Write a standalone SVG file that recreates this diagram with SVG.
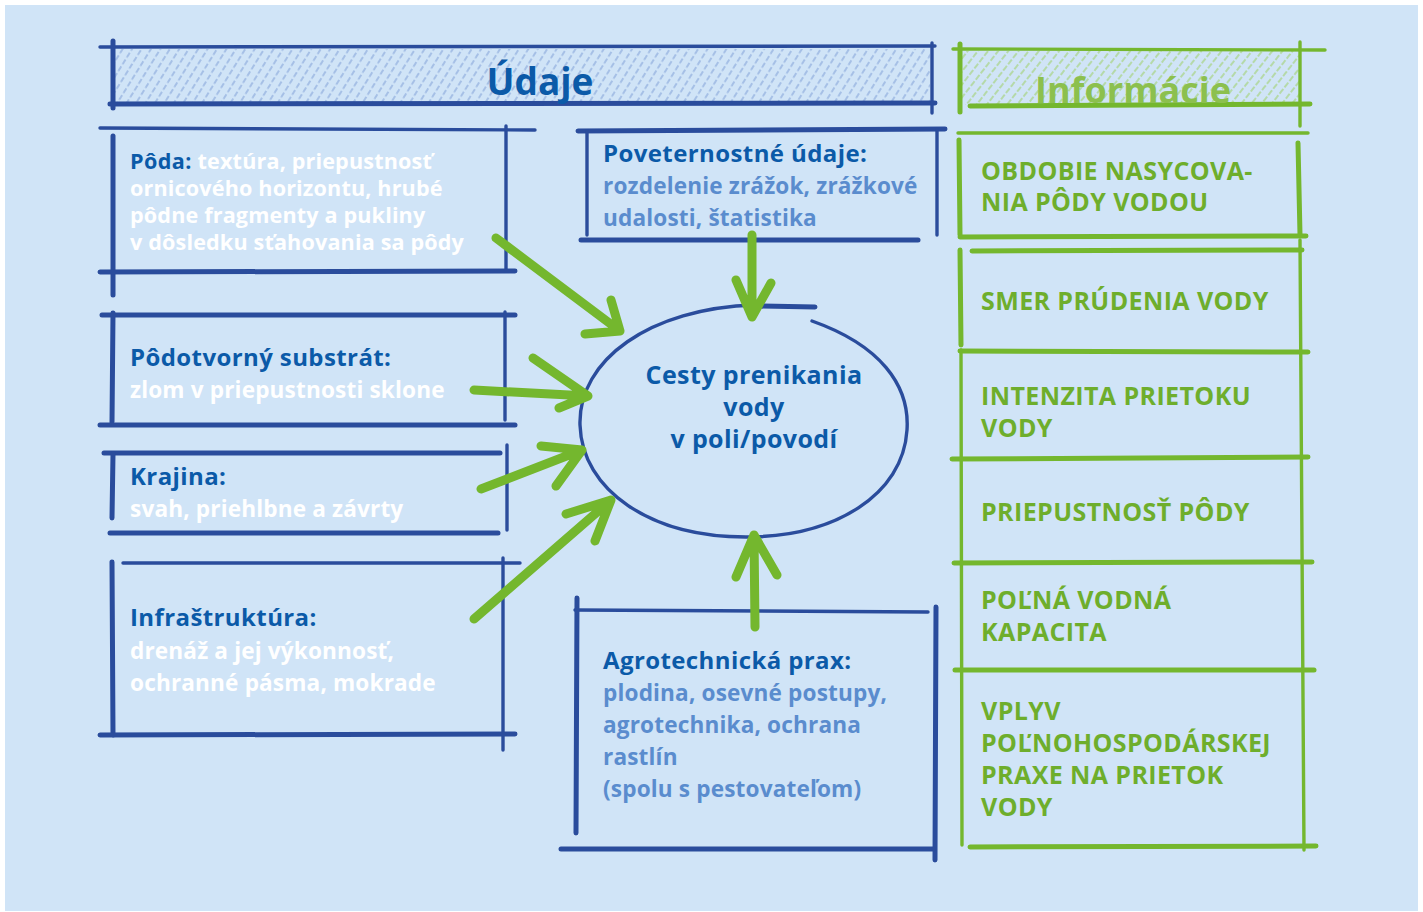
<svg xmlns="http://www.w3.org/2000/svg" width="1423" height="912" viewBox="0 0 1423 912">
  <defs>
    <pattern id="hatchBlue" width="8" height="8" patternUnits="userSpaceOnUse" patternTransform="rotate(32)">
      <line x1="2" y1="0" x2="2" y2="5.5" stroke="#7f9ed6" stroke-width="1.4" stroke-opacity="0.75"/>
    </pattern>
    <pattern id="hatchGreen" width="8" height="8" patternUnits="userSpaceOnUse" patternTransform="rotate(38)">
      <line x1="2" y1="0" x2="2" y2="6" stroke="#9fd06a" stroke-width="1.4" stroke-opacity="0.8"/>
    </pattern>
  </defs>
  <style>
    .bl { stroke: #2a4c9c; stroke-width: 3.4; stroke-linecap: round; fill: none; }
    .blt { stroke: #2a4c9c; stroke-width: 5; stroke-linecap: round; fill: none; }
    .gl { stroke: #74b72e; stroke-width: 3.4; stroke-linecap: round; fill: none; }
    .glt { stroke: #74b72e; stroke-width: 5; stroke-linecap: round; fill: none; }
    .arr { stroke: #74b72e; stroke-width: 9; stroke-linecap: round; stroke-linejoin: round; fill: none; }
    text { font-family: "Open Sans", "Noto Sans", sans-serif; font-weight: 700; }
    .hd { fill: #0b5aa8; font-size: 24px; letter-spacing: 0.4px; }
    .wt { fill: #ffffff; font-size: 22.6px; letter-spacing: 0.15px; }
    .lb { fill: #5a8cce; font-size: 22.6px; letter-spacing: 0.15px; }
    .gt { fill: #6eae2c; font-size: 25px; letter-spacing: 0.4px; }
    .sm { font-size: 21.6px; }
  </style>

  <!-- page background -->
  <rect x="5" y="5" width="1413" height="906" fill="#d0e4f7"/>

  <!-- header: Údaje -->
  <g id="header-udaje">
    <rect x="112" y="49" width="818" height="55" fill="url(#hatchBlue)"/>
    <path class="bl" d="M100 47 L935 46"/>
    <path class="blt" d="M110 104 L935 103"/>
    <path class="blt" d="M113 41 L113 108"/>
    <path class="bl" d="M932 43 L932 113"/>
    <text x="540" y="95" text-anchor="middle" style="font-size:37px;fill:#0b5aa8">Údaje</text>
  </g>

  <!-- header: Informácie -->
  <g id="header-informacie">
    <rect x="962" y="51" width="338" height="54" fill="url(#hatchGreen)"/>
    <path class="gl" d="M953 49 L1325 50"/>
    <path class="glt" d="M970 106 L1310 104"/>
    <path class="glt" d="M960 44 L960 112"/>
    <path class="gl" d="M1300 42 L1300 126"/>
    <text x="1133" y="103" text-anchor="middle" style="font-size:36px;fill:#8cc04e">Informácie</text>
  </g>

  <!-- Pôda -->
  <g id="node-poda">
    <path class="bl" d="M100 128 L535 130"/>
    <path class="blt" d="M113 136 L113 295"/>
    <path class="bl" d="M506 126 L506 270"/>
    <path class="blt" d="M100 272 L515 271"/>
    <text x="130" y="169"><tspan class="hd sm">Pôda:</tspan><tspan class="wt sm"> textúra, priepustnosť</tspan></text>
    <text class="wt sm" x="130" y="196">ornicového horizontu, hrubé</text>
    <text class="wt sm" x="130" y="223">pôdne fragmenty a pukliny</text>
    <text class="wt sm" x="130" y="250">v dôsledku sťahovania sa pôdy</text>
  </g>

  <!-- Poveternostné údaje -->
  <g id="node-poveternostne">
    <path class="blt" d="M578 131 L945 129"/>
    <path class="bl" d="M587 131 L587 235"/>
    <path class="bl" d="M937 130 L937 235"/>
    <path class="blt" d="M581 240 L918 240"/>
    <text class="hd" x="603" y="162">Poveternostné údaje:</text>
    <text class="lb" x="603" y="194">rozdelenie zrážok, zrážkové</text>
    <text class="lb" x="603" y="226">udalosti, štatistika</text>
  </g>

  <!-- Pôdotvorný substrát -->
  <g id="node-podotvorny">
    <path class="blt" d="M102 315 L515 315"/>
    <path class="blt" d="M113 313 L112 422"/>
    <path class="bl" d="M505 312 L505 420"/>
    <path class="blt" d="M100 425 L515 425"/>
    <text class="hd" x="130" y="366">Pôdotvorný substrát:</text>
    <text class="wt" x="130" y="398">zlom v priepustnosti sklone</text>
  </g>

  <!-- Krajina -->
  <g id="node-krajina">
    <path class="blt" d="M104 453 L500 453"/>
    <path class="blt" d="M113 454 L112 518"/>
    <path class="bl" d="M507 445 L507 530"/>
    <path class="blt" d="M110 533 L498 533"/>
    <text class="hd" x="130" y="485">Krajina:</text>
    <text class="wt" x="130" y="517">svah, priehlbne a závrty</text>
  </g>

  <!-- Infraštruktúra -->
  <g id="node-infrastruktura">
    <path class="bl" d="M123 563 L520 563"/>
    <path class="blt" d="M112 562 L113 735"/>
    <path class="bl" d="M503 558 L503 750"/>
    <path class="blt" d="M100 735 L515 734"/>
    <text class="hd" x="130" y="626">Infraštruktúra:</text>
    <text class="wt" x="130" y="659">drenáž a jej výkonnosť,</text>
    <text class="wt" x="130" y="691">ochranné pásma, mokrade</text>
  </g>

  <!-- Agrotechnická prax -->
  <g id="node-agrotechnicka">
    <path class="bl" d="M575 610 L928 612"/>
    <path class="blt" d="M577 598 L576 833"/>
    <path class="blt" d="M936 607 L935 860"/>
    <path class="blt" d="M561 849 L933 849"/>
    <text class="hd" x="603" y="669">Agrotechnická prax:</text>
    <text class="lb" x="603" y="701">plodina, osevné postupy,</text>
    <text class="lb" x="603" y="733">agrotechnika, ochrana</text>
    <text class="lb" x="603" y="765">rastlín</text>
    <text class="lb" x="603" y="797">(spolu s pestovateľom)</text>
  </g>

  <!-- central ellipse -->
  <g id="node-cesty">
    <path class="bl" d="M812 321 C880 345 910 385 907 430 C903 495 835 537 746 537 C650 537 582 490 580 425 C578 360 650 308 755 305"/>
    <path class="blt" d="M755 306 L815 307"/>
    <text class="hd" x="754" y="384" text-anchor="middle" style="font-size:25px">Cesty prenikania</text>
    <text class="hd" x="754" y="416" text-anchor="middle" style="font-size:25px">vody</text>
    <text class="hd" x="754" y="448" text-anchor="middle" style="font-size:25px">v poli/povodí</text>
  </g>

  <!-- Informácie list -->
  <g id="info-list">
    <path class="gl" d="M958 133 L1308 133"/>
    <path class="glt" d="M959 140 L960 235"/>
    <path class="glt" d="M1298 143 L1300 235"/>
    <path class="glt" d="M960 237 L1306 236"/>
    <path class="glt" d="M972 251 L1302 250"/>
    <path class="glt" d="M960 250 L961 345"/>
    <path class="gl" d="M1300 240 L1304 850"/>
    <path class="glt" d="M960 351 L1308 352"/>
    <path class="gl" d="M961 350 L962 845"/>
    <path class="glt" d="M952 459 L1308 457"/>
    <path class="glt" d="M954 563 L1312 562"/>
    <path class="glt" d="M955 670 L1314 670"/>
    <path class="glt" d="M970 847 L1316 846"/>
    <g id="info-obdobie"><text class="gt" x="981" y="180">OBDOBIE NASYCOVA-</text><text class="gt" x="981" y="211">NIA PÔDY VODOU</text></g>
    <g id="info-smer"><text class="gt" x="981" y="310">SMER PRÚDENIA VODY</text></g>
    <g id="info-intenzita"><text class="gt" x="981" y="405">INTENZITA PRIETOKU</text><text class="gt" x="981" y="437">VODY</text></g>
    <g id="info-priepustnost"><text class="gt" x="981" y="521">PRIEPUSTNOSŤ PÔDY</text></g>
    <g id="info-polna"><text class="gt" x="981" y="609">POĽNÁ VODNÁ</text><text class="gt" x="981" y="641">KAPACITA</text></g>
    <g id="info-vplyv"><text class="gt" x="981" y="720">VPLYV</text><text class="gt" x="981" y="752">POĽNOHOSPODÁRSKEJ</text><text class="gt" x="981" y="784">PRAXE NA PRIETOK</text><text class="gt" x="981" y="816">VODY</text></g>
  </g>

  <!-- connectors -->
  <g id="connectors">
    <path class="arr" d="M496 238 L620 331 M585 334 L620 331 L611 300"/>
    <path class="arr" d="M474 390 L588 396 M533 358 L588 396 L559 408"/>
    <path class="arr" d="M481 489 L582 450 M541 446 L582 450 L556 486"/>
    <path class="arr" d="M474 619 L611 500 M566 514 L611 500 L595 541"/>
    <path class="arr" d="M752 235 L752 317 M736 280 L752 317 L771 283"/>
    <path class="arr" d="M755 627 L754 535 M736 577 L754 535 L777 575"/>
  </g>
</svg>
